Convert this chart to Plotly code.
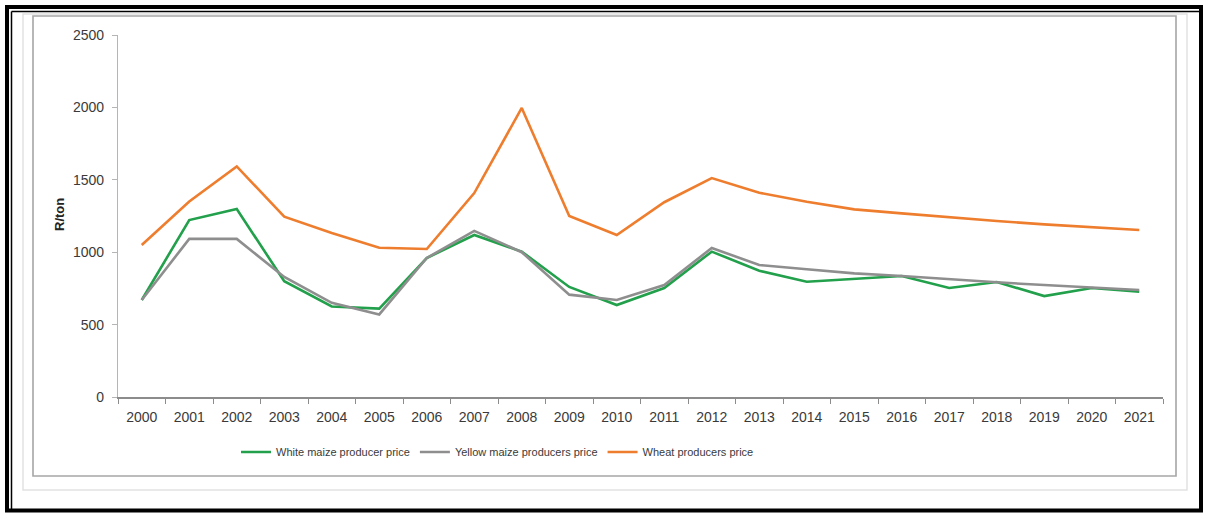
import plotly.graph_objects as go

years = [str(y) for y in range(2000, 2022)]
white_maize = [670, 1222, 1298, 800, 625, 610, 960, 1119, 1004, 760, 635, 753,
               1004, 872, 796, 818, 836, 753, 794, 697, 753, 727]
yellow_maize = [670, 1092, 1092, 829, 650, 570, 960, 1147, 1000, 707, 670, 773,
                1029, 912, 882, 854, 836, 813, 792, 773, 757, 739]
wheat = [1050, 1350, 1592, 1245, 1132, 1031, 1022, 1408, 1996, 1250, 1119, 1345,
         1512, 1411, 1349, 1296, 1268, 1240, 1215, 1192, 1172, 1153]

series_names = ["White maize producer price", "Yellow maize producers price", "Wheat producers price"]
series_colors = ["#22a04b", "#8e8e8e", "#ee7d2e"]

W, H = 1205, 513
L, R, T, B = 118, 42, 35, 116
PW, PH = W - L - R, H - T - B


def px(x):
    return (x - L) / PW


def py(y):
    return (H - B - y) / PH


fig = go.Figure()
for name, vals, col in zip(series_names, [white_maize, yellow_maize, wheat], series_colors):
    fig.add_trace(go.Scatter(x=years, y=vals, mode="lines", name=name,
                             line=dict(color=col, width=2.6)))

shapes = [
    # outer black frame
    dict(type="rect", xref="paper", yref="paper", x0=px(7), x1=px(1201), y0=py(7), y1=py(510.5),
         line=dict(color="black", width=4)),
    dict(type="line", xref="paper", yref="paper", x0=px(11.5), x1=px(1199), y0=py(11.5), y1=py(11.5),
         line=dict(color="black", width=1.5)),
    dict(type="line", xref="paper", yref="paper", x0=px(11.5), x1=px(11.5), y0=py(11.5), y1=py(509),
         line=dict(color="black", width=1.5)),
    # light gray outer rectangle
    dict(type="rect", xref="paper", yref="paper", x0=px(23), x1=px(1187), y0=py(14), y1=py(490),
         line=dict(color="#e2e2e2", width=1.5)),
    # chart border
    dict(type="rect", xref="paper", yref="paper", x0=px(33), x1=px(1176), y0=py(16), y1=py(476),
         line=dict(color="#a6a6a6", width=1.6)),
]

fig.update_layout(
    width=W, height=H,
    margin=dict(l=L, r=R, t=T, b=B),
    paper_bgcolor="white", plot_bgcolor="white",
    font=dict(family="Liberation Sans, Arial, sans-serif", size=13, color="#3a3a3a"),
    showlegend=True,
    legend=dict(orientation="h", x=px(236), xanchor="left", y=py(452), yanchor="middle",
                font=dict(family="Liberation Sans, Arial", size=11, color="#3a3a3a"),
                itemwidth=30, tracegroupgap=0, bgcolor="rgba(0,0,0,0)"),
    shapes=shapes,
    xaxis=dict(type="category", range=[-0.5, 21.5], showgrid=False, showline=True,
               linecolor="#8c8c8c", linewidth=1.5, ticks="outside", tickson="boundaries",
               ticklen=5, tickcolor="#8c8c8c", tickfont=dict(size=14, color="#3a3a3a"),
               ticklabelstandoff=6, zeroline=False),
    yaxis=dict(range=[0, 2500], tickvals=[0, 500, 1000, 1500, 2000, 2500], showgrid=False,
               showline=True, linecolor="#b5b5b5", linewidth=1.2, ticks="outside", ticklen=5,
               tickcolor="#b5b5b5", tickfont=dict(size=14, color="#3a3a3a"),
               ticklabelstandoff=5, zeroline=False),
    annotations=[dict(text="<b>R/ton</b>", xref="paper", yref="paper", x=px(60), y=py(215),
                      textangle=-90, showarrow=False, font=dict(size=13, color="#222"),
                      xanchor="center", yanchor="middle")],
)

fig.write_html("out.html", config={"displayModeBar": False},
               post_script="document.body.style.margin='0';document.body.style.overflow='hidden';")
